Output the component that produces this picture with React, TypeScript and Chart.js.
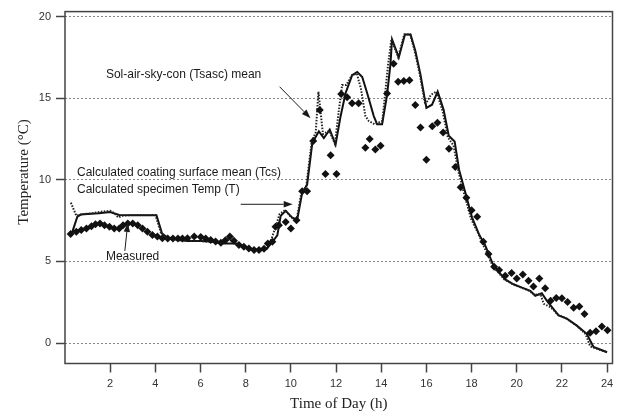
import React, { useEffect, useRef } from "react";
import { Chart, registerables } from "chart.js";

Chart.register(...registerables);

const measuredTime = [0.25, 0.5, 0.72, 0.95, 1.17, 1.35, 1.55, 1.75, 1.97, 2.18, 2.4, 2.57, 2.78, 3.0, 3.22, 3.43, 3.65, 3.87, 4.09, 4.31, 4.55, 4.78, 5.0, 5.2, 5.42, 5.72, 6.01, 6.23, 6.45, 6.67, 6.9, 7.1, 7.3, 7.48, 7.7, 7.92, 8.14, 8.37, 8.59, 8.81, 8.98, 9.18, 9.32, 9.47, 9.77, 10.0, 10.25, 10.5, 10.72, 10.99, 11.28, 11.53, 11.76, 12.02, 12.23, 12.49, 12.71, 13.0, 13.3, 13.49, 13.74, 13.97, 14.26, 14.55, 14.75, 15.0, 15.25, 15.51, 15.74, 16.0, 16.26, 16.49, 16.74, 17.0, 17.28, 17.52, 17.77, 18.0, 18.25, 18.52, 18.75, 19.0, 19.22, 19.49, 19.77, 20.0, 20.27, 20.52, 20.74, 21.0, 21.26, 21.5, 21.75, 22.0, 22.25, 22.52, 22.77, 23.0, 23.25, 23.51, 23.77, 24.02];
const measuredTemp = [6.68, 6.82, 6.92, 7.02, 7.16, 7.28, 7.32, 7.22, 7.12, 7.02, 7.02, 7.22, 7.32, 7.32, 7.22, 7.02, 6.82, 6.62, 6.52, 6.42, 6.4, 6.4, 6.4, 6.4, 6.42, 6.52, 6.5, 6.4, 6.31, 6.22, 6.15, 6.3, 6.52, 6.27, 6.01, 5.9, 5.8, 5.7, 5.7, 5.77, 6.1, 6.2, 7.12, 7.22, 7.42, 7.02, 7.52, 9.3, 9.3, 12.37, 14.28, 10.35, 11.5, 10.35, 15.25, 15.05, 14.68, 14.68, 11.96, 12.5, 11.86, 12.08, 15.29, 17.1, 16.0, 16.05, 16.1, 14.58, 13.2, 11.22, 13.28, 13.5, 12.9, 11.9, 10.78, 9.54, 8.9, 8.13, 7.73, 6.2, 5.45, 4.68, 4.47, 4.12, 4.29, 3.96, 4.2, 3.81, 3.47, 3.95, 3.36, 2.6, 2.76, 2.75, 2.52, 2.16, 2.24, 1.78, 0.63, 0.72, 1.01, 0.79];

const specimenTime = [0.3, 0.55, 0.7, 1.0, 1.5, 2.0, 2.4, 3.0, 3.5, 4.05, 4.3, 4.55, 5.1, 5.5, 6.0, 6.6, 7.0, 7.6, 7.9, 8.35, 8.95, 9.18, 9.4, 9.55, 9.77, 10.05, 10.28, 10.5, 10.72, 10.95, 11.24, 11.46, 11.72, 11.98, 12.2, 12.42, 12.71, 12.94, 13.16, 13.38, 13.67, 13.82, 14.04, 14.26, 14.41, 14.48, 14.78, 15.05, 15.3, 15.51, 15.73, 16.0, 16.25, 16.5, 16.76, 16.99, 17.25, 17.45, 17.72, 18.02, 18.35, 18.6, 18.97, 19.49, 19.86, 20.23, 20.6, 20.82, 21.11, 21.33, 21.56, 21.85, 22.22, 22.66, 23.1, 23.4, 24.0];
const specimenTemp = [6.7, 7.75, 7.87, 7.9, 7.95, 8.02, 7.85, 7.83, 7.83, 7.83, 6.7, 6.45, 6.3, 6.25, 6.25, 6.2, 6.1, 6.1, 5.9, 5.7, 5.8, 6.2, 6.6, 7.8, 8.1, 7.7, 7.55, 9.2, 9.7, 12.26, 12.97, 12.56, 13.07, 12.16, 13.88, 15.3, 16.4, 16.6, 16.3, 15.3, 13.9, 13.4, 13.4, 15.2, 17.1, 18.6, 17.5, 18.9, 18.9, 17.9, 16.5, 14.4, 14.6, 15.4, 14.3, 12.7, 12.35, 10.6, 9.24, 7.7, 6.6, 6.0, 4.75, 3.9, 3.6, 3.4, 3.2, 2.9, 3.05, 2.6, 2.2, 1.7, 1.5, 1.07, 0.57, -0.24, -0.56];

const tsascTime = [0.26, 0.5, 0.8, 1.2, 1.6, 2.0, 2.2, 2.35, 2.55, 3.0, 3.5, 4.0, 4.25, 4.5, 5.1, 5.5, 6.0, 6.6, 7.0, 7.25, 7.5, 7.9, 8.35, 8.95, 9.15, 9.32, 9.5, 9.75, 10.02, 10.25, 10.45, 10.68, 10.92, 11.1, 11.22, 11.42, 11.7, 11.95, 12.12, 12.27, 12.45, 12.7, 12.92, 13.1, 13.3, 13.45, 13.7, 14.05, 14.3, 14.45, 14.75, 15.02, 15.28, 15.48, 15.7, 15.95, 16.2, 16.45, 16.72, 16.95, 17.2, 17.42, 17.68, 17.98, 18.3, 18.55, 18.95, 19.45, 19.82, 20.2, 20.55, 20.8, 21.05, 21.2, 21.5, 21.82, 22.2, 22.63, 23.05, 23.25, 24.0];
const tsascTemp = [8.6, 7.8, 7.9, 7.95, 8.05, 8.1, 7.95, 7.7, 7.8, 7.85, 7.85, 7.85, 6.75, 6.45, 6.3, 6.25, 6.25, 6.2, 6.1, 6.4, 6.1, 5.9, 5.7, 5.8, 6.4, 7.1, 7.9, 8.15, 7.7, 7.5, 9.1, 9.6, 12.3, 12.9, 15.4, 12.8, 13.0, 12.2, 14.2, 15.8, 15.8, 16.4, 16.5, 15.6, 13.9, 13.6, 13.4, 13.6, 17.0, 18.6, 17.5, 18.9, 18.9, 17.9, 16.5, 14.6, 15.2, 15.4, 14.2, 12.6, 12.1, 10.5, 9.1, 7.6, 6.7, 5.9, 4.7, 3.9, 3.6, 3.4, 3.2, 2.95, 3.0, 2.4, 2.2, 1.75, 1.5, 1.1, 0.55, -0.2, -0.56];

const xTickValues = [2, 4, 6, 8, 10, 12, 14, 16, 18, 20, 22, 24];
const yTickValues = [0, 5, 10, 15, 20];

const xTitle = "Time of Day (h)";
const yTitle = "Temperature (°C)";

// annotation texts and arrows in data coordinates
const labelTexts = [
  "Sol-air-sky-con (Tsasc) mean",
  "Calculated coating surface mean (Tcs)",
  "Calculated specimen Temp (T)",
  "Measured",
];
const labelX = [1.81, 0.53, 0.53, 1.81];
const labelY = [16.45, 10.45, 9.4, 5.3];
const arrowFromX = [9.5, 7.78, 2.65];
const arrowFromY = [15.7, 8.5, 5.65];
const arrowToX = [10.87, 10.08, 2.78];
const arrowToY = [13.77, 8.5, 7.36];

const toPoints = (xs: number[], ys: number[]) => xs.map((x, i) => ({ x, y: ys[i] }));

const framePlugin = {
  id: "frameAndNotes",
  afterDraw(chart: any) {
    const { ctx, chartArea, scales } = chart;
    const xs = scales.x;
    const ys = scales.y;
    ctx.save();
    // frame
    ctx.strokeStyle = "#444";
    ctx.lineWidth = 1.5;
    ctx.strokeRect(chartArea.left, chartArea.top, chartArea.right - chartArea.left, chartArea.bottom - chartArea.top);

    // labels
    ctx.fillStyle = "#1a1a1a";
    ctx.font = "12px 'Liberation Sans', Arial, sans-serif";
    ctx.textBaseline = "middle";
    ctx.textAlign = "left";
    labelTexts.forEach((t, i) => {
      ctx.fillText(t, xs.getPixelForValue(labelX[i]), ys.getPixelForValue(labelY[i]));
    });

    // arrows
    ctx.strokeStyle = "#1a1a1a";
    ctx.lineWidth = 1;
    arrowFromX.forEach((_, i) => {
      const x1 = xs.getPixelForValue(arrowFromX[i]);
      const y1 = ys.getPixelForValue(arrowFromY[i]);
      const x2 = xs.getPixelForValue(arrowToX[i]);
      const y2 = ys.getPixelForValue(arrowToY[i]);
      const ang = Math.atan2(y2 - y1, x2 - x1);
      const hl = 9;
      const hw = 3.2;
      const bx = x2 - hl * Math.cos(ang);
      const by = y2 - hl * Math.sin(ang);
      ctx.beginPath();
      ctx.moveTo(x1, y1);
      ctx.lineTo(bx, by);
      ctx.stroke();
      ctx.beginPath();
      ctx.moveTo(x2, y2);
      ctx.lineTo(bx + hw * Math.sin(ang), by - hw * Math.cos(ang));
      ctx.lineTo(bx - hw * Math.sin(ang), by + hw * Math.cos(ang));
      ctx.closePath();
      ctx.fill();
    });

    // axis titles
    ctx.fillStyle = "#222";
    ctx.font = "15px 'Liberation Serif', 'Times New Roman', serif";
    ctx.textAlign = "center";
    ctx.textBaseline = "middle";
    ctx.fillText(xTitle, (chartArea.left + chartArea.right) / 2, 404);
    ctx.translate(24, 172);
    ctx.rotate(-Math.PI / 2);
    ctx.fillText(yTitle, 0, 0);
    ctx.restore();
  },
};

export default function App() {
  const canvasRef = useRef<HTMLCanvasElement | null>(null);

  useEffect(() => {
    const canvas = canvasRef.current;
    if (!canvas) return;
    const tickFont = { family: "'Liberation Sans', Arial, sans-serif", size: 11 };
    const chart = new Chart(canvas, {
      type: "scatter",
      data: {
        datasets: [
          {
            label: "Measured",
            data: toPoints(measuredTime, measuredTemp),
            pointStyle: "rectRot",
            pointRadius: 4,
            backgroundColor: "#111",
            borderColor: "#111",
            borderWidth: 0,
            showLine: false,
          },
          {
            label: "Sol-air-sky-con (Tsasc) mean",
            data: toPoints(tsascTime, tsascTemp),
            showLine: true,
            borderColor: "#222",
            borderWidth: 2,
            borderDash: [1.5, 1.5],
            pointRadius: 0,
            tension: 0,
          },
          {
            label: "Calculated specimen Temp (T)",
            data: toPoints(specimenTime, specimenTemp),
            showLine: true,
            borderColor: "#111",
            borderWidth: 2,
            pointRadius: 0,
            tension: 0,
          },
        ],
      },
      options: {
        responsive: false,
        animation: false,
        events: [],
        layout: { padding: { top: 6, right: 6.5, left: 0, bottom: 0 } },
        plugins: { legend: { display: false }, tooltip: { enabled: false }, title: { display: false } },
        scales: {
          x: {
            type: "linear",
            min: 0,
            max: 24.24,
            afterBuildTicks: (s: any) => {
              s.ticks = xTickValues.map((v) => ({ value: v }));
            },
            afterFit: (s: any) => {
              s.height = 55.5;
            },
            ticks: { font: tickFont, color: "#333", padding: 5, autoSkip: false, maxRotation: 0 },
            grid: { drawOnChartArea: false, drawTicks: true, tickLength: 9, tickColor: "#444", tickWidth: 1.5 },
            border: { display: false },
          },
          y: {
            type: "linear",
            min: -1.25,
            max: 20.3,
            afterBuildTicks: (s: any) => {
              s.ticks = yTickValues.map((v) => ({ value: v }));
            },
            afterFit: (s: any) => {
              s.width = 65;
            },
            ticks: { font: tickFont, color: "#333", padding: 5 },
            grid: {
              drawOnChartArea: true,
              color: "#888",
              lineWidth: 1,
              drawTicks: true,
              tickLength: 9,
              tickColor: "#444",
              tickWidth: 1.5,
              tickBorderDash: [],
            },
            border: { display: false, dash: [2, 2] },
          },
        },
      },
      plugins: [
        {
          id: "dottedGrid",
          beforeDraw(chart: any) {
            const ys = chart.scales.y;
            ys.options.grid.borderDash = [1.5, 1.5];
          },
        },
        framePlugin,
      ],
    } as any);
    return () => chart.destroy();
  }, []);

  return (
    <div style={{ position: "fixed", left: 0, top: 0, width: 619, height: 419, background: "#fff" }}>
      <canvas ref={canvasRef} width={619} height={419} style={{ width: 619, height: 419 }} />
    </div>
  );
}
